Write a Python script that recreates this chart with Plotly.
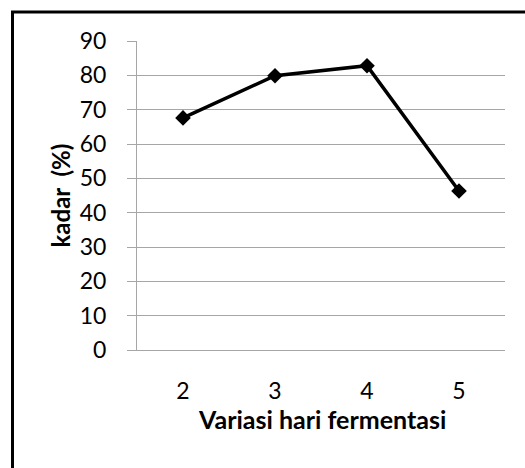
import plotly.graph_objects as go

days = [2, 3, 4, 5]
kadar = [67.6, 79.9, 82.8, 46.3]
y_ticks = [0, 10, 20, 30, 40, 50, 60, 70, 80, 90]

GRID = "#a6a6a6"
FONT = "Lato, Carlito, Calibri, sans-serif"

fig = go.Figure()
fig.add_trace(go.Scatter(
    x=days, y=kadar, mode="lines+markers",
    line=dict(color="black", width=3.5),
    marker=dict(symbol="diamond", size=12, color="black"),
    showlegend=False,
))

fig.update_layout(
    width=525, height=468,
    margin=dict(l=137, r=20, t=41, b=118),
    paper_bgcolor="white", plot_bgcolor="white",
    font=dict(family=FONT, color="black", size=23),
)
fig.update_xaxes(
    range=[1.5, 5.5], tickvals=days, ticktext=[str(d) for d in days],
    showgrid=False, zeroline=False, showline=True, linecolor=GRID, linewidth=1,
    ticks="", ticklabelstandoff=20, tickfont=dict(size=23, family=FONT),
)
fig.update_yaxes(
    range=[0, 90], tickvals=y_ticks, showgrid=True, gridcolor=GRID, gridwidth=1,
    zeroline=False, showline=True, linecolor=GRID, linewidth=1,
    ticks="outside", ticklen=9, tickcolor=GRID, ticklabelstandoff=16,
    tickfont=dict(size=23, family=FONT),
)

fig.add_annotation(
    text="<b>kadar  (%)</b>", xref="paper", yref="paper",
    x=(60 - 137) / 368, y=0.5, xanchor="center", yanchor="middle",
    textangle=-90, showarrow=False, font=dict(size=24, family=FONT),
)
fig.add_annotation(
    text="<b>Variasi hari fermentasi</b>", xref="paper", yref="paper",
    x=(322 - 137) / 368, y=(350 - 419) / 309, xanchor="center", yanchor="middle",
    showarrow=False, font=dict(size=25, family=FONT),
)

fig.add_shape(
    type="rect", xref="paper", yref="paper",
    x0=(12.5 - 137) / 368, x1=1.3, y0=-0.5, y1=(350 - 12) / 309,
    line=dict(color="black", width=3), fillcolor="rgba(0,0,0,0)", layer="above",
)

fig.write_html(
    "out.html",
    config={"displayModeBar": False},
    post_script="document.body.style.margin='0';",
)
